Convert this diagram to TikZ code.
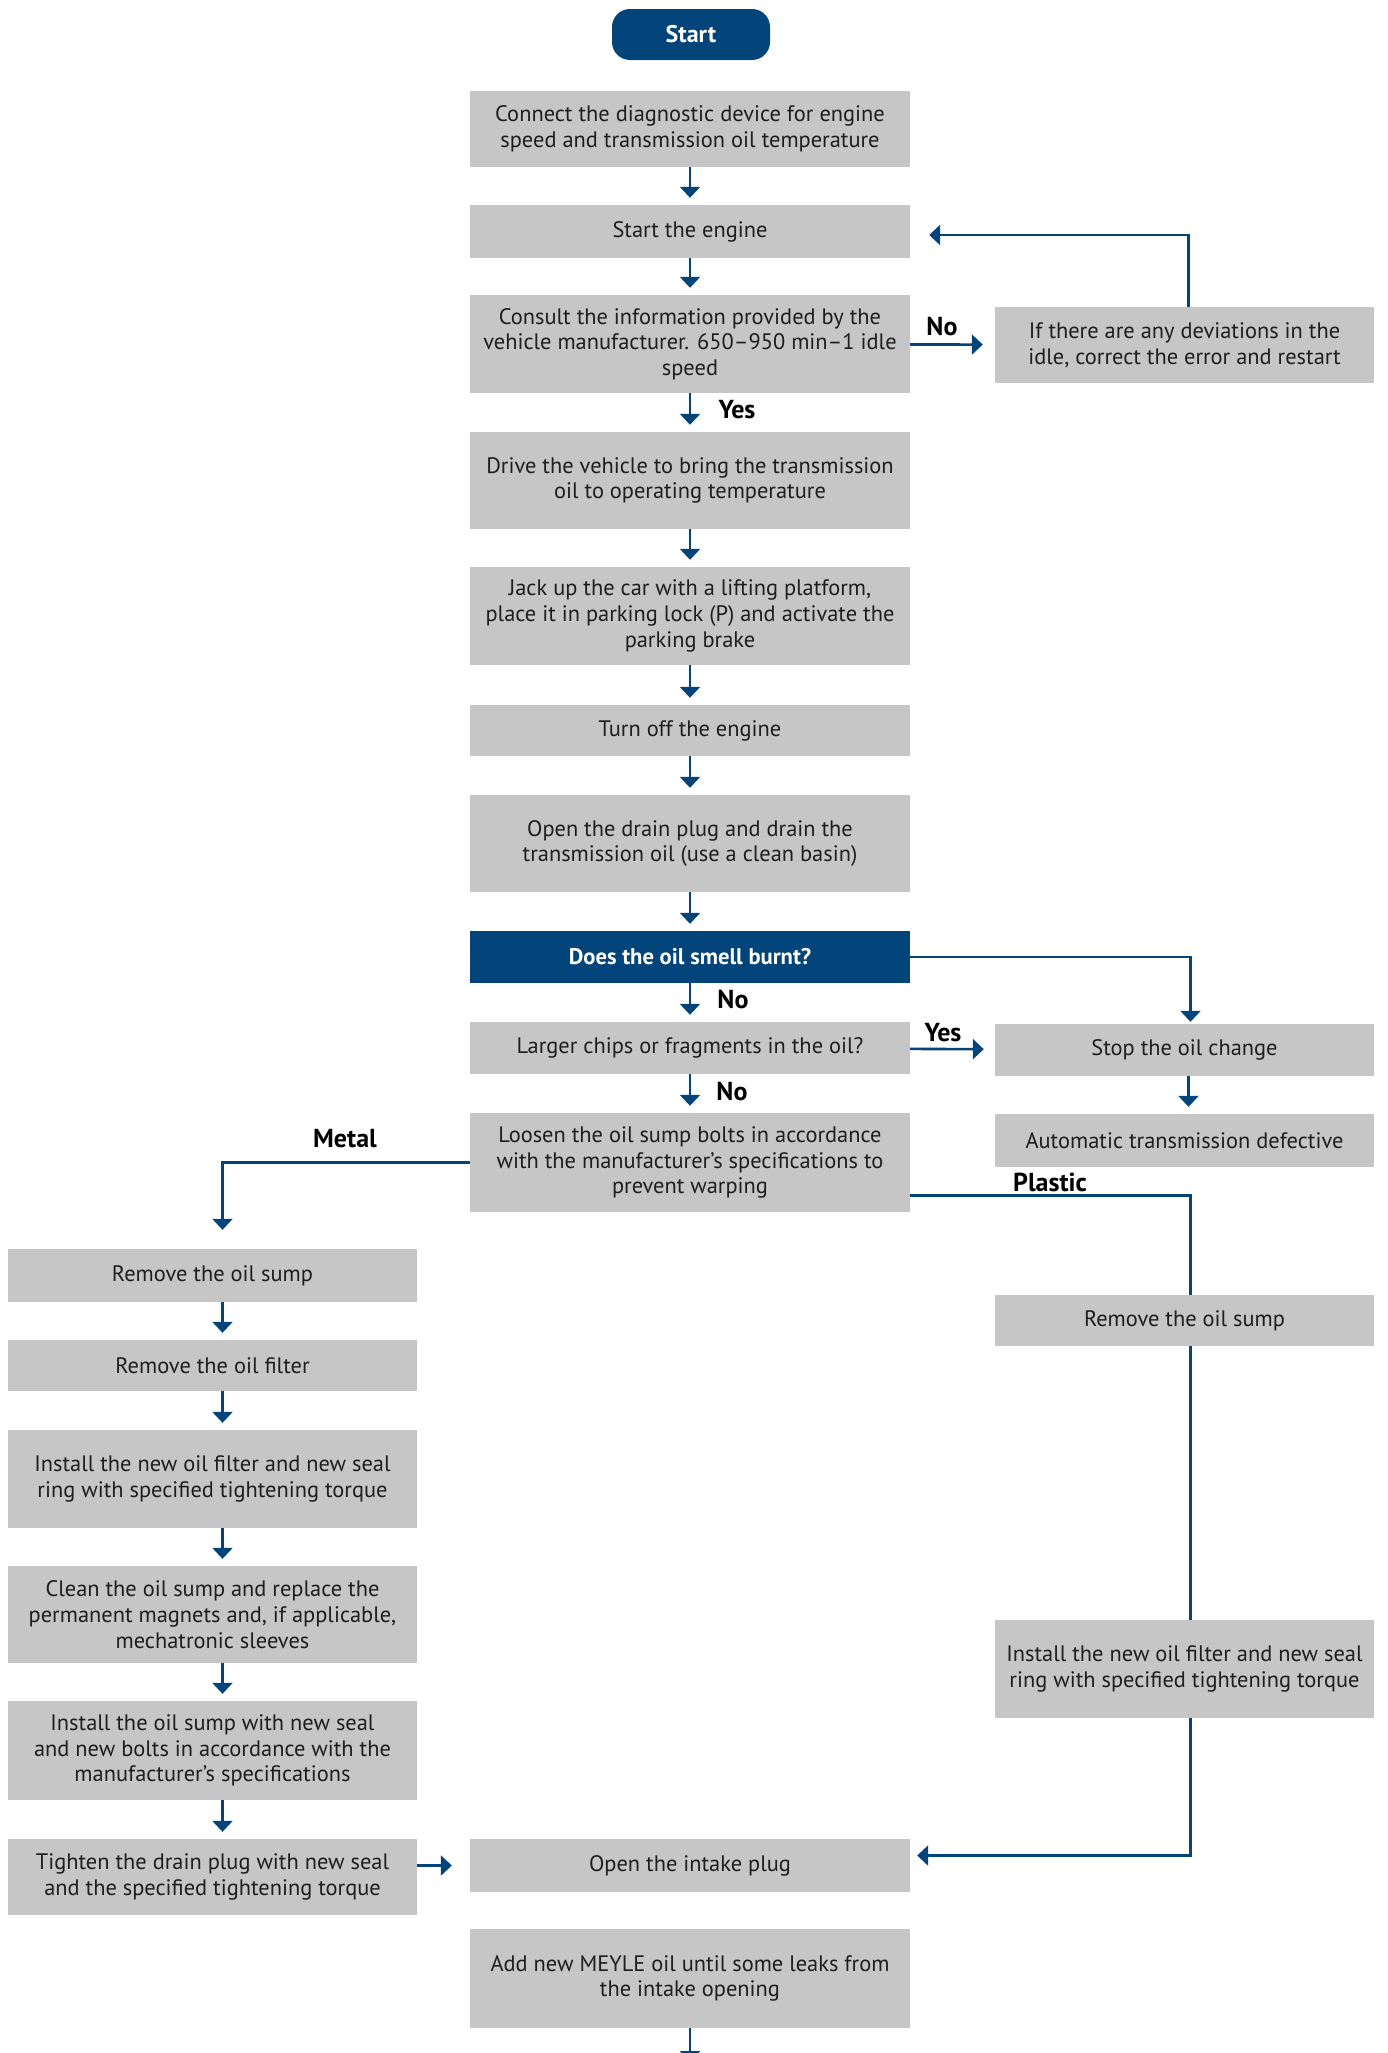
\documentclass[tikz,border=0pt]{standalone}
\usepackage{fontspec}
\setmainfont{PT Sans}
\usetikzlibrary{positioning,arrows.meta,calc}
\definecolor{meyleblue}{HTML}{03447A}
\definecolor{boxgray}{HTML}{C6C6C6}
\definecolor{txtgray}{HTML}{1E1E1E}

\begin{document}
\begin{tikzpicture}[x=1pt, y=-1pt,
  box/.style={fill=boxgray, inner sep=0pt, align=center, text=txtgray, font=\fontsize{22.4}{25.7}\selectfont},
  mid/.style={box, minimum width=440, minimum height=#1},
  lft/.style={box, minimum width=409, minimum height=#1},
  rgt/.style={box, minimum width=379, minimum height=#1},
  dark/.style={fill=meyleblue, inner sep=0pt, text=white, font=\bfseries\fontsize{22.6}{26}\selectfont},
  lbl/.style={font=\bfseries\fontsize{26}{30}\selectfont, text=black},
  arrow/.style={-{Triangle[width=20pt,length=11pt]}, draw=meyleblue, line width=2.6pt, shorten >=7},
  link/.style={draw=meyleblue, line width=2.6pt}
]
\useasboundingbox (0,0) rectangle (1387,2053);

% main column
\node[dark, rounded corners=18pt, minimum width=158, minimum height=51, font=\bfseries\fontsize{24}{28}\selectfont] (start) at (691,34.5) {Start};
\node[mid=76] (conn) at (690,129) {Connect the diagnostic device for engine\\speed and transmission oil temperature};
\node[mid=53] (engine) at (690,231.5) {Start the engine};
\node[mid=98] (consult) at (690,344) {Consult the information provided by the\\vehicle manufacturer. 650–950 min–1 idle\\speed};
\node[mid=97] (drive) at (690,480.5) {Drive the vehicle to bring the transmission\\oil to operating temperature};
\node[mid=98] (jack) at (690,616) {Jack up the car with a lifting platform,\\place it in parking lock (P) and activate the\\parking brake};
\node[mid=51] (off) at (690,730.5) {Turn off the engine};
\node[mid=97] (drain) at (690,843.5) {Open the drain plug and drain the\\transmission oil (use a clean basin)};
\node[dark, minimum width=440, minimum height=52] (burnt) at (690,957) {Does the oil smell burnt?};
\node[mid=52] (chips) at (690,1048) {Larger chips or fragments in the oil?};
\node[mid=99] (loosen) at (690,1162.5) {Loosen the oil sump bolts in accordance\\with the manufacturer’s specifications to\\prevent warping};
\node[mid=53] (intake) at (690,1865.5) {Open the intake plug};
\node[mid=99] (meyle) at (690,1978.5) {Add new MEYLE oil until some leaks from\\the intake opening};
\coordinate (end) at (690,2062);

% right column
\node[rgt=76] (idle) at (1184.5,345) {If there are any deviations in the\\idle, correct the error and restart};
\node[rgt=52] (stop) at (1184.5,1050) {Stop the oil change};
\node[rgt=53] (defect) at (1184.5,1140.5) {Automatic transmission defective};
\node[rgt=51] (psump) at (1184.5,1320.5) {Remove the oil sump};
\node[rgt=98] (pfilter) at (1184.5,1669) {Install the new oil filter and new seal\\ring with specified tightening torque};

% left column
\node[lft=53] (msump) at (212.5,1275.5) {Remove the oil sump};
\node[lft=51] (mfilter) at (212.5,1365.5) {Remove the oil filter};
\node[lft=98] (mnew) at (212.5,1479) {Install the new oil filter and new seal\\ring with specified tightening torque};
\node[lft=97] (mclean) at (212.5,1614.5) {Clean the oil sump and replace the\\permanent magnets and, if applicable,\\mechatronic sleeves};
\node[lft=99] (minst) at (212.5,1750.5) {Install the oil sump with new seal\\and new bolts in accordance with the\\manufacturer’s specifications};
\node[lft=76] (mtight) at (212.5,1877) {Tighten the drain plug with new seal\\and the specified tightening torque};

% labels
\node[lbl] (no1) at (942,327) {No};
\node[lbl] (yes1) at (737,410) {Yes};
\node[lbl] (no2) at (733,1000) {No};
\node[lbl] (yes2) at (943,1033) {Yes};
\node[lbl] (no3) at (732,1092) {No};
\node[lbl] (metal) at (345,1139) {Metal};
\node[lbl] (plastic) at (1050,1182) {Plastic};

% connectors
\draw[arrow] (conn) -- (engine);
\draw[arrow] (engine) -- (consult);
\draw[arrow] (consult) -- (drive);
\draw[arrow] (drive) -- (jack);
\draw[arrow] (jack) -- (off);
\draw[arrow] (off) -- (drain);
\draw[arrow] (drain) -- (burnt);
\draw[arrow] (burnt) -- (chips);
\draw[arrow] (chips) -- (loosen);
\draw[arrow, shorten >=12] (consult) -- (idle);
\draw[arrow, shorten >=19] ([xshift=4]idle.north) |- ([yshift=-3.5]engine.east);
\draw[arrow, shorten >=2] (burnt.east) -| ([xshift=6]stop.north);
\draw[arrow, shorten >=11] (chips) -- (stop);
\draw[arrow] ([xshift=4]stop.south) -- ([xshift=4]defect.north);
\draw[arrow, shorten >=19] (loosen.west) -| ([xshift=10]msump.north);
\draw[link] ([yshift=-33]loosen.east) -| ([xshift=6]psump.north);
\draw[link] ([xshift=6]psump.south) -- ([xshift=6]pfilter.north);
\draw[arrow] ([xshift=6]pfilter.south) |- ([yshift=10]intake.east);
\draw[arrow] ([xshift=10]msump.south) -- ([xshift=10]mfilter.north);
\draw[arrow] ([xshift=10]mfilter.south) -- ([xshift=10]mnew.north);
\draw[arrow] ([xshift=10]mnew.south) -- ([xshift=10]mclean.north);
\draw[arrow] ([xshift=10]mclean.south) -- ([xshift=10]minst.north);
\draw[arrow] ([xshift=10]minst.south) -- ([xshift=10]mtight.north);
\draw[arrow, shorten >=18] (mtight.east |- intake) -- (intake.west);
\draw[arrow, shorten >=0] (meyle) -- (end);
\end{tikzpicture}
\end{document}
